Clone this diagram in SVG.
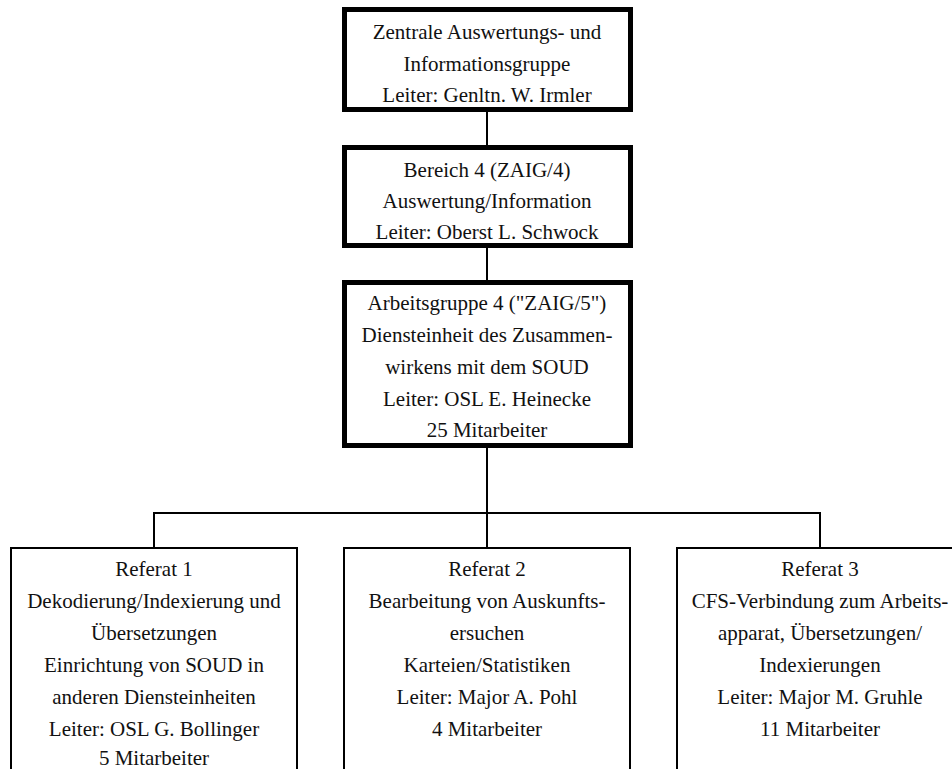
<svg xmlns="http://www.w3.org/2000/svg" width="952" height="769" viewBox="0 0 952 769" font-family="Liberation Serif, Times New Roman, Times, DejaVu Serif, serif">
<style>
.thick{fill:#fff;stroke:#000;stroke-width:5}
.thin{fill:#fff;stroke:#000;stroke-width:2}
.conn{fill:none;stroke:#000;stroke-width:2}
.t text{font-size:21px;fill:#111;text-anchor:middle}
</style>
<rect width="952" height="769" fill="#fff"/>
<g id="connectors">
<line class="conn" x1="487" y1="110" x2="487" y2="147"/>
<line class="conn" x1="487" y1="246" x2="487" y2="282"/>
<line class="conn" x1="487" y1="446" x2="487" y2="548"/>
<line class="conn" x1="154" y1="513" x2="820" y2="513"/>
<line class="conn" x1="154" y1="512" x2="154" y2="548"/>
<line class="conn" x1="820" y1="512" x2="820" y2="548"/>
</g>
<g id="zaig" class="t">
<rect class="thick" x="344.5" y="9.5" width="286" height="100"/>
<text x="487" y="39">Zentrale Auswertungs- und</text>
<text x="487" y="70.5">Informationsgruppe</text>
<text x="487" y="102">Leiter: Genltn. W. Irmler</text>
</g>
<g id="bereich4" class="t">
<rect class="thick" x="344.5" y="147.5" width="286" height="98"/>
<text x="487" y="176.5">Bereich 4 (ZAIG/4)</text>
<text x="487" y="207.5">Auswertung/Information</text>
<text x="487" y="239">Leiter: Oberst L. Schwock</text>
</g>
<g id="ag4" class="t">
<rect class="thick" x="344.5" y="282.5" width="286" height="163"/>
<text x="487" y="310">Arbeitsgruppe 4 ("ZAIG/5")</text>
<text x="487" y="342">Diensteinheit des Zusammen-</text>
<text x="487" y="374">wirkens mit dem SOUD</text>
<text x="487" y="406">Leiter: OSL E. Heinecke</text>
<text x="487" y="437">25 Mitarbeiter</text>
</g>
<g id="referat1" class="t">
<rect class="thin" x="11" y="548" width="286" height="240"/>
<text x="154" y="576">Referat 1</text>
<text x="154" y="608">Dekodierung/Indexierung und</text>
<text x="154" y="640">Übersetzungen</text>
<text x="154" y="672">Einrichtung von SOUD in</text>
<text x="154" y="704">anderen Diensteinheiten</text>
<text x="154" y="736">Leiter: OSL G. Bollinger</text>
<text x="154" y="765">5 Mitarbeiter</text>
</g>
<g id="referat2" class="t">
<rect class="thin" x="344" y="548" width="286" height="240"/>
<text x="487" y="576">Referat 2</text>
<text x="487" y="608">Bearbeitung von Auskunfts-</text>
<text x="487" y="640">ersuchen</text>
<text x="487" y="672">Karteien/Statistiken</text>
<text x="487" y="704">Leiter: Major A. Pohl</text>
<text x="487" y="736">4 Mitarbeiter</text>
</g>
<g id="referat3" class="t">
<rect class="thin" x="677" y="548" width="286" height="240"/>
<text x="820" y="576">Referat 3</text>
<text x="820" y="608">CFS-Verbindung zum Arbeits-</text>
<text x="820" y="640">apparat, Übersetzungen/</text>
<text x="820" y="672">Indexierungen</text>
<text x="820" y="704">Leiter: Major M. Gruhle</text>
<text x="820" y="736">11 Mitarbeiter</text>
</g>
</svg>
